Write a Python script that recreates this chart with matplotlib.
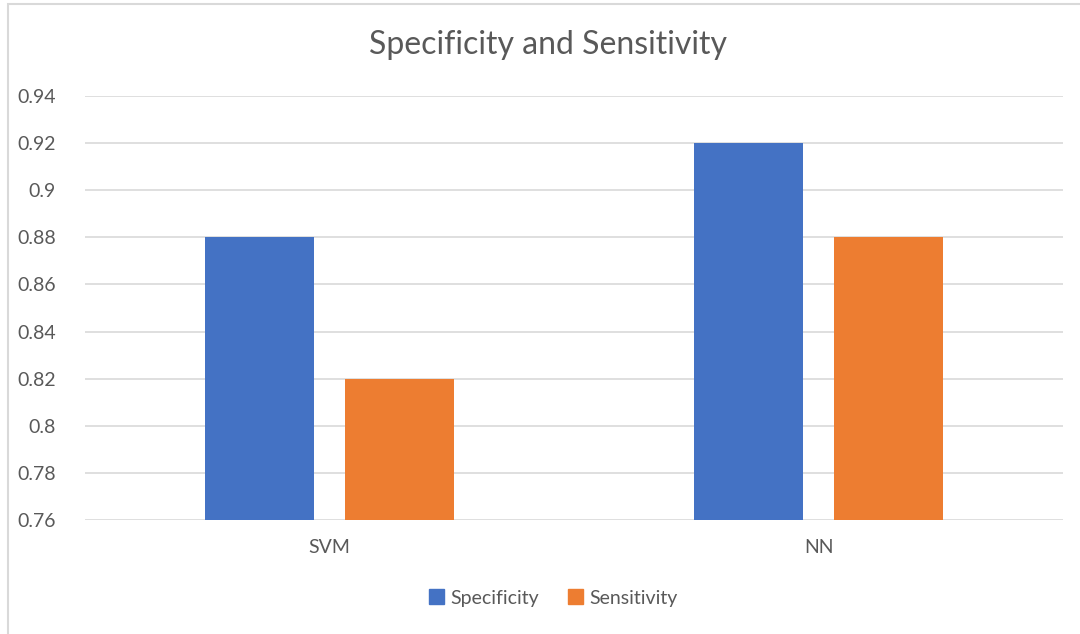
import matplotlib
matplotlib.use("Agg")
import matplotlib.pyplot as plt
from matplotlib.patches import Rectangle, Patch
import numpy as np

categories = ["SVM", "NN"]
series_names = ["Specificity", "Sensitivity"]
specificity = [0.88, 0.92]
sensitivity = [0.82, 0.88]
yticks = [0.76, 0.78, 0.80, 0.82, 0.84, 0.86, 0.88, 0.90, 0.92, 0.94]
ytick_labels = ["0.76", "0.78", "0.8", "0.82", "0.84", "0.86", "0.88", "0.9", "0.92", "0.94"]

colors = ["#4472C4", "#ED7D31"]
txt = "#595959"
grid = "#D9D9D9"

plt.rcParams['font.family'] = ['Lato', 'DejaVu Sans']

W, H = 1080, 634
fig = plt.figure(figsize=(W / 100, H / 100), dpi=100)
fig.patch.set_facecolor("white")

# outer chart border (cropped at right & bottom)
fig.add_artist(Rectangle((8 / W, -0.1), 1.2, 1 - 4 / H + 0.1, transform=fig.transFigure,
                         fill=False, edgecolor=grid, linewidth=1.5))

ax = fig.add_axes([85 / W, 1 - 520 / H, (1063 - 85) / W, (520 - 96) / H])
x = np.arange(len(categories))
bw = 0.223
off = 0.1425
ax.bar(x - off, specificity, bw, color=colors[0], zorder=3, label=series_names[0])
ax.bar(x + off, sensitivity, bw, color=colors[1], zorder=3, label=series_names[1])

ax.set_xlim(-0.5, 1.5)
ax.set_ylim(0.76, 0.94)
ax.set_yticks(yticks)
ax.set_yticklabels(ytick_labels)
ax.set_xticks(x)
ax.set_xticklabels(categories)
ax.tick_params(axis="both", length=0, labelsize=14, colors=txt)
ax.tick_params(axis="y", pad=21)
ax.tick_params(axis="x", pad=14)
for s in ax.spines.values():
    s.set_visible(False)
ax.yaxis.grid(True, color=grid, linewidth=1.2, zorder=0)
ax.set_axisbelow(True)

fig.text(548 / W, 1 - 45 / H, "Specificity and Sensitivity", ha="center", va="center",
         fontsize=23, color=txt)

handles = [Patch(color=colors[0]), Patch(color=colors[1])]
fig.legend(handles, series_names, loc="center", bbox_to_anchor=(553 / W, 1 - 598 / H),
           ncol=2, frameon=False, fontsize=14, labelcolor=txt,
           handlelength=0.8, handleheight=0.8, handletextpad=0.3, columnspacing=1.5)

fig.savefig("out.png", dpi=100, facecolor="white")
